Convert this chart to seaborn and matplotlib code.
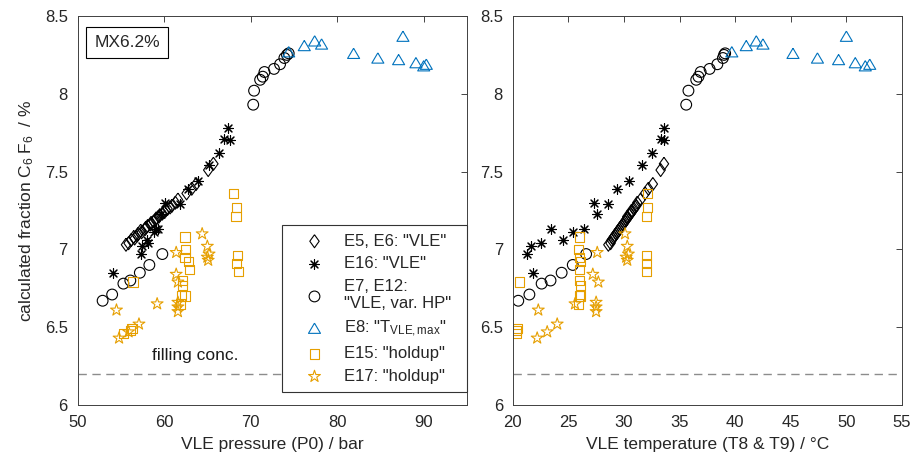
import matplotlib
matplotlib.use("Agg")
import matplotlib.pyplot as plt
import pandas as pd
import seaborn as sns

# ---- data ----
# E5, E6 "VLE"  (diamonds)
y_e5 = [7.03, 7.04, 7.06, 7.07, 7.08, 7.09, 7.10, 7.11, 7.12, 7.13, 7.14, 7.15, 7.16, 7.17, 7.18, 7.19,
        7.20, 7.21, 7.22, 7.23, 7.24, 7.25, 7.26, 7.27, 7.28, 7.30, 7.32, 7.36, 7.39, 7.42, 7.51, 7.55]
p_e5 = [55.6, 55.9, 56.2, 56.6, 56.5, 56.9, 57.0, 57.4, 57.3, 57.8, 57.9, 58.1, 58.4, 58.5, 58.8, 59.0,
        59.1, 59.4, 59.5, 59.8, 60.0, 60.2, 60.4, 60.7, 60.9, 61.3, 61.6, 62.6, 63.2, 63.7, 65.1, 65.7]
t_e5 = [28.6, 28.8, 28.9, 29.0, 29.1, 29.2, 29.3, 29.4, 29.5, 29.6, 29.7, 29.8, 29.9, 30.0, 30.1, 30.2,
        30.3, 30.3, 30.5, 30.6, 30.7, 30.7, 30.9, 31.0, 31.1, 31.2, 31.5, 31.9, 32.2, 32.6, 33.3, 33.6]

# E16 "VLE"  (asterisks)
y_e16 = [6.85, 6.97, 7.02, 7.04, 7.13, 7.06, 7.11, 7.13, 7.30, 7.23, 7.29, 7.39, 7.44, 7.54, 7.62, 7.71, 7.70, 7.78]
p_e16 = [54.1, 57.3, 57.5, 58.2, 59.1, 58.0, 58.8, 59.3, 60.1, 59.6, 61.8, 62.8, 63.9, 65.2, 66.3, 66.9, 67.6, 67.4]
t_e16 = [21.8, 21.3, 21.6, 22.5, 23.4, 24.5, 25.4, 26.4, 27.3, 27.6, 28.6, 29.4, 30.5, 31.6, 32.5, 33.3, 33.6, 33.6]

# E7, E12 "VLE, var. HP"  (circles)
y_e7 = [6.67, 6.71, 6.78, 6.80, 6.85, 6.90, 6.97, 7.93, 8.02, 8.09, 8.11, 8.14, 8.16, 8.19, 8.23, 8.25, 8.26]
p_e7 = [52.9, 54.0, 55.3, 56.1, 57.2, 58.3, 59.8, 70.3, 70.4, 71.1, 71.4, 71.6, 72.7, 73.4, 73.9, 74.2, 74.4]
t_e7 = [20.5, 21.5, 22.6, 23.4, 24.4, 25.4, 26.6, 35.6, 35.8, 36.5, 36.7, 36.9, 37.7, 38.4, 38.9, 39.0, 39.1]

# E8 "T_VLE,max"  (triangles)
y_e8 = [8.27, 8.31, 8.34, 8.32, 8.26, 8.23, 8.22, 8.37, 8.20, 8.18, 8.19]
p_e8 = [74.4, 76.2, 77.4, 78.2, 81.9, 84.7, 87.1, 87.6, 89.1, 90.0, 90.3]
t_e8 = [39.7, 41.0, 41.9, 42.5, 45.2, 47.4, 49.3, 50.0, 50.8, 51.7, 52.1]

# E15 "holdup"  (squares)
y_e15 = [6.79, 6.46, 6.48, 6.49, 7.08, 7.00, 6.95, 6.92, 6.87, 6.80, 6.77, 6.70, 6.70, 6.65, 7.36, 7.27, 7.21, 6.96, 6.91, 6.86]
p_e15 = [56.4, 55.3, 56.1, 56.3, 62.4, 62.5, 62.4, 62.8, 62.9, 62.1, 62.1, 62.0, 62.4, 61.9, 68.0, 68.4, 68.3, 68.5, 68.4, 68.6]
t_e15 = [20.6, 20.3, 20.3, 20.4, 26.0, 25.9, 26.0, 26.1, 26.0, 26.0, 26.1, 26.0, 26.1, 25.9, 32.1, 32.1, 32.0, 32.0, 32.0, 32.0]

# E17 "holdup"  (stars)
y_e17 = [6.61, 6.43, 6.47, 6.52, 6.65, 6.98, 6.84, 6.79, 6.66, 6.63, 6.60, 7.10, 7.02, 6.95, 6.93, 6.97]
p_e17 = [54.5, 54.8, 55.9, 57.1, 59.2, 61.4, 61.4, 61.6, 61.6, 61.6, 61.6, 64.4, 65.0, 65.0, 65.1, 65.2]
t_e17 = [22.3, 22.2, 23.1, 24.0, 25.6, 27.6, 27.2, 27.7, 27.5, 27.5, 27.5, 30.1, 30.3, 30.2, 30.3, 30.4]

filling_conc = 6.2
y_ticks = [6, 6.5, 7, 7.5, 8, 8.5]
y_ticklabels = ["6", "6.5", "7", "7.5", "8", "8.5"]
p_ticks = [50, 60, 70, 80, 90]
t_ticks = [20, 25, 30, 35, 40, 45, 50, 55]

black = "black"
blue = "#0072BD"
orange = "#E69F00"

# matlab-like marker shapes
diamond = [(0, 1), (0.72, 0), (0, -1), (-0.72, 0), (0, 1)]
triangle = [(0, 0.85), (1, -0.85), (-1, -0.85), (0, 0.85)]

# name, label, y, P, T, marker, size, colour, open marker?
series = [
    ("E5", 'E5, E6: "VLE"', y_e5, p_e5, t_e5, diamond, 88, black, True),
    ("E16", 'E16: "VLE"', y_e16, p_e16, t_e16, (8, 2, 0), 50, black, False),
    ("E7", 'E7, E12:\n"VLE, var. HP"', y_e7, p_e7, t_e7, "o", 60, black, True),
    ("E8", r'E8: "T$_{\mathrm{VLE,max}}$"', y_e8, p_e8, t_e8, triangle, 75, blue, True),
    ("E15", 'E15: "holdup"', y_e15, p_e15, t_e15, "s", 45, orange, True),
    ("E17", 'E17: "holdup"', y_e17, p_e17, t_e17, "*", 80, orange, True),
]

sns.set_style("white")
plt.rcParams["font.family"] = ["Liberation Sans", "DejaVu Sans"]
plt.rcParams["mathtext.fontset"] = "custom"
plt.rcParams["mathtext.rm"] = "Liberation Sans"
plt.rcParams["mathtext.it"] = "Liberation Sans:italic"

fig = plt.figure(figsize=(9.11, 4.61), dpi=100)
ax1 = fig.add_axes([0.0851, 0.1215, 0.4275, 0.8438])
ax2 = fig.add_axes([0.5628, 0.1215, 0.4273, 0.8438])

for name, label, yv, pv, tv, mk, sz, col, is_open in series:
    df = pd.DataFrame({"P": pv, "T": tv, "y": yv})
    for ax, xcol in ((ax1, "P"), (ax2, "T")):
        kw = dict(marker=mk, s=sz, color=col, linewidth=0.8, legend=False)
        if is_open:
            kw.update(facecolor="none", edgecolor=col)
        sns.scatterplot(data=df, x=xcol, y="y", ax=ax,
                        label=label if ax is ax1 else None, **kw)

for ax, ticks, lim in ((ax1, p_ticks, (50, 95)), (ax2, t_ticks, (20, 55))):
    ax.axhline(filling_conc, color="0.55", lw=1.0, ls=(0, (6, 4)), zorder=0)
    ax.set_xlim(*lim)
    ax.set_ylim(6, 8.5)
    ax.set_xticks(ticks)
    ax.set_xticklabels([str(t) for t in ticks])
    ax.set_yticks(y_ticks)
    ax.set_yticklabels(y_ticklabels)
    ax.tick_params(direction="in", length=4, width=0.6, top=True, right=True,
                   labelsize=12, colors="0.15", pad=7)
    for sp in ax.spines.values():
        sp.set_color("0.25")
        sp.set_linewidth(0.7)

ax1.set_xlabel("VLE pressure (P0) / bar", fontsize=12.5, color="0.15", labelpad=5)
ax2.set_xlabel("VLE temperature (T8 & T9) / °C", fontsize=12.5, color="0.15", labelpad=5)
ax1.set_ylabel(r"calculated fraction C$_{6}\;$F$_{6}\;$ / %", fontsize=12.5, color="0.15", labelpad=6)
ax2.set_ylabel("")

ax1.text(58.6, 6.29, "filling conc.", fontsize=12.5, color="0.1")
ax1.text(0.043, 0.932, "MX6.2%", transform=ax1.transAxes, fontsize=12.5, va="center",
         bbox=dict(boxstyle="square,pad=0.45", fc="white", ec="black", lw=0.8))

leg = ax1.legend(loc="lower left", bbox_to_anchor=(0.525, 0.033, 0.475, 0.5), mode="expand",
                 borderaxespad=0, fontsize=12, frameon=True, fancybox=False, framealpha=1,
                 edgecolor="0.2", handlelength=2.9, handletextpad=0.35,
                 labelspacing=0.45, borderpad=0.5, scatterpoints=1)
leg.get_frame().set_linewidth(0.8)

fig.savefig("out.png", dpi=100)
